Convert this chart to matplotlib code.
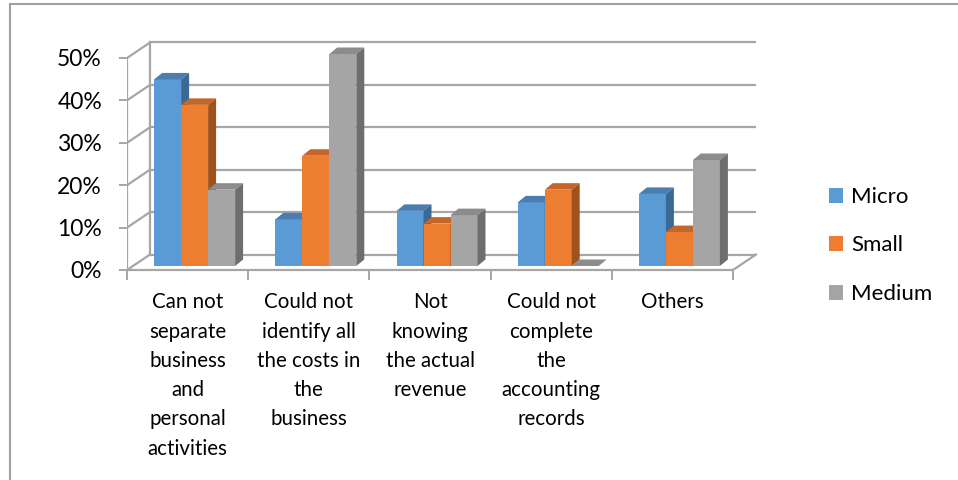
import matplotlib
matplotlib.use("Agg")
import matplotlib.pyplot as plt
from matplotlib.patches import Polygon, Patch
import numpy as np

categories = ["Can not\nseparate\nbusiness\nand\npersonal\nactivities",
              "Could not\nidentify all\nthe costs in\nthe\nbusiness",
              "Not\nknowing\nthe actual\nrevenue",
              "Could not\ncomplete\nthe\naccounting\nrecords",
              "Others"]
series_names = ["Micro", "Small", "Medium"]
micro = [44, 11, 13, 15, 17]
small = [38, 26, 10, 18, 8]
medium = [18, 50, 12, 0, 25]
yticks = [0, 10, 20, 30, 40, 50]
ytick_labels = ["0%", "10%", "20%", "30%", "40%", "50%"]

colors = ["#5B9BD5", "#ED7D31", "#A5A5A5"]
top_colors = ["#4A7DB0", "#C4652A", "#8C8C8C"]
side_colors = ["#3C6894", "#A0521D", "#6E6E6E"]

FONT = "Lato"
plt.rcParams['font.family'] = [FONT, 'DejaVu Sans']

fig = plt.figure(figsize=(9.58, 4.8), dpi=100)
W, H = 958, 480
ax = fig.add_axes([127 / W, (H - 270) / H, (760 - 127) / W, (270 - 40) / H])
catw = (733 - 127) / 5.0
ax.set_xlim(-0.5, -0.5 + (760 - 127) / catw)
ax.set_ylim(0, (270 - 40) / 4.24)

DX = 23 / catw
DY = 15.5 / 4.24
grid_c = "#A6A6A6"
glw = 1.6
n = len(categories)
x0 = -0.5
x1 = n - 0.5

for v in yticks:
    ax.plot([x0 + DX, x1 + DX], [v + DY, v + DY], color=grid_c, lw=glw, zorder=1, solid_capstyle='butt')
    ax.plot([x0, x0 + DX], [v, v + DY], color=grid_c, lw=glw, zorder=1)
ax.plot([x0 + DX, x0 + DX], [DY, yticks[-1] + DY], color=grid_c, lw=glw, zorder=1)
ax.plot([x0, x0], [0, yticks[-1]], color=grid_c, lw=glw, zorder=1)
ax.plot([x0, x1], [0, 0], color=grid_c, lw=glw, zorder=1, clip_on=False)
ax.plot([x1, x1 + DX], [0, DY], color=grid_c, lw=glw, zorder=1)

bw = 27 / catw
fx = 7 / catw
fy = 4 / 4.24
bdx = 8 / catw
bdy = 6.5 / 4.24
xs = np.arange(n)
all_series = [micro, small, medium]
for ci in range(n):
    for si, vals in enumerate(all_series):
        left = xs[ci] + fx - 1.5 * bw + si * bw
        v = vals[ci]
        z = 3 + si * 0.1
        ax.bar(left, v, width=bw, bottom=fy, align='edge', color=colors[si],
               edgecolor='none', zorder=z)
        top = fy + v
        ax.add_patch(Polygon([(left, top), (left + bw, top), (left + bw + bdx, top + bdy),
                              (left + bdx, top + bdy)], closed=True,
                             facecolor=top_colors[si], edgecolor='none', zorder=z))
        ax.add_patch(Polygon([(left + bw, fy), (left + bw + bdx, fy + bdy),
                              (left + bw + bdx, top + bdy), (left + bw, top)], closed=True,
                             facecolor=side_colors[si], edgecolor='none', zorder=z))

for s in ax.spines.values():
    s.set_visible(False)

ax.set_yticks(yticks)
ax.set_yticklabels(ytick_labels, fontsize=16.5, color="#000000")
ax.tick_params(axis='y', length=6, width=1.4, color=grid_c, pad=12)

ax.set_xticks(xs)
ax.set_xticklabels(categories, fontsize=14.8, linespacing=1.58, va='top')
ax.set_xticks(np.arange(n + 1) - 0.5, minor=True)
ax.tick_params(axis='x', which='major', length=0, pad=16)
ax.tick_params(axis='x', which='minor', length=7, width=1.4, color=grid_c)
ax.set_facecolor('none')

handles = [Patch(facecolor=c, edgecolor='none') for c in colors]
fig.legend(handles, series_names, loc='upper left', bbox_to_anchor=(829 / W, 1 - 187 / H),
           frameon=False, fontsize=16, handlelength=0.65, handleheight=0.65,
           handletextpad=0.35, labelspacing=1.28, borderaxespad=0, borderpad=0)

fig.add_artist(plt.Line2D([10 / W, 10 / W], [0, 1 - 4 / H], color="#A0A0A0", lw=1.5))
fig.add_artist(plt.Line2D([10 / W, 1], [1 - 4 / H, 1 - 4 / H], color="#A0A0A0", lw=1.5))

fig.savefig("out.png", dpi=100)
